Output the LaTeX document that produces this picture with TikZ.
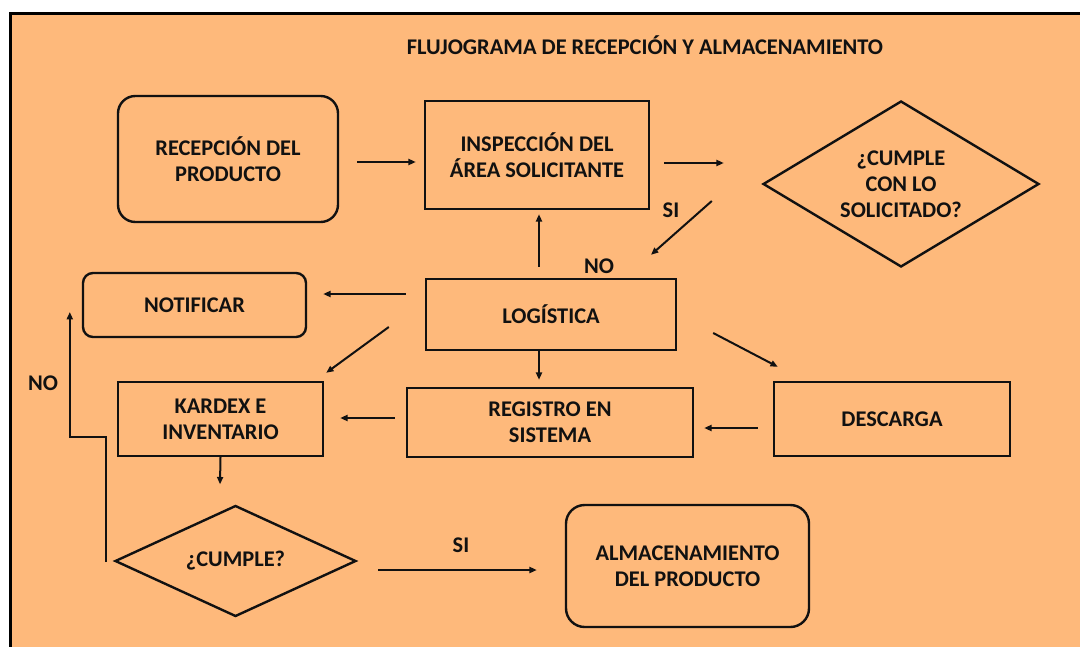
\documentclass[tikz,border=0pt]{standalone}
\usepackage{fontspec}
\setmainfont{Carlito}
\usetikzlibrary{shapes.geometric,arrows.meta,calc}
\definecolor{bgorange}{HTML}{FEB97B}
\definecolor{ink}{HTML}{111111}
\begin{document}
\begin{tikzpicture}[x=0.75pt,y=-0.75pt,
  every node/.style={font=\bfseries\fontsize{16.8}{19.5}\selectfont, align=center, text=ink},
  box/.style={draw=ink, line width=1.8pt, inner sep=0pt},
  rbox/.style={box, rounded corners=#1},
  dia/.style={diamond, draw=ink, line width=1.8pt, inner sep=0pt, aspect=1.66},
  arr/.style={draw=ink, line width=1.5pt, -{Triangle[length=5.5pt,width=4.5pt]}},
  lbl/.style={inner sep=0pt}]
\useasboundingbox (0,0) rectangle (1080,646);
\clip (0,0) rectangle (1080,646);
\fill[white] (0,0) rectangle (1080,646);
\draw[line width=2.4pt, fill=bgorange] (10.5,13.5) rectangle (1100,660);

\node[lbl] (title) at (645,45) {FLUJOGRAMA DE RECEPCIÓN Y ALMACENAMIENTO};

\node[rbox=13pt, minimum width=165pt, minimum height=94.5pt] (rec) at (228,159) {RECEPCIÓN DEL\\PRODUCTO};
\node[box, minimum width=168pt, minimum height=81pt] (insp) at (537,155) {INSPECCIÓN DEL\\ÁREA SOLICITANTE};
\node[dia, minimum width=207pt, minimum height=124.5pt] (d1) at (901,184) {¿CUMPLE\\CON LO\\SOLICITADO?};
\node[box, minimum width=187.5pt, minimum height=53.25pt] (logi) at (551,314.5) {LOGÍSTICA};
\node[rbox=7.5pt, minimum width=167.25pt, minimum height=48pt] (notif) at (194.5,305) {NOTIFICAR};
\node[box, minimum width=153.75pt, minimum height=55.5pt] (kard) at (220.5,419) {KARDEX E\\INVENTARIO};
\node[box, minimum width=214.5pt, minimum height=51.75pt] (reg) at (550,422.5) {REGISTRO EN\\SISTEMA};
\node[box, minimum width=177pt, minimum height=55.5pt] (desc) at (892,419) {DESCARGA};
\node[dia, minimum width=180.75pt, minimum height=83.25pt] (d2) at (235.5,561) {¿CUMPLE?};
\node[rbox=14pt, minimum width=182.25pt, minimum height=91.5pt] (alm) at (687.5,566) {ALMACENAMIENTO\\DEL PRODUCTO};

\node[lbl] (si1) at (671,210) {SI};
\node[lbl] (no1) at (599,266) {NO};
\node[lbl] (no2) at (43,383) {NO};
\node[lbl] (si2) at (461,545) {SI};

\draw[arr] ($(rec.east)+(18,3)$) -- ($(insp.west)+(-8,7)$);
\draw[arr] ($(insp.east)+(14,8)$) -- ($(d1.west)+(-38,-21)$);
\draw[arr] ($(d1.west)+(-50,17)$) -- ($(logi.north)+(100,-23)$);
\draw[arr] ($(logi.north)+(-12,-11)$) -- ($(insp.south)+(2,4)$);
\draw[arr] ($(logi.west)+(-19,-20.5)$) -- ($(notif.east)+(16,-11)$);
\draw[arr] ($(logi.west)+(-36,12.5)$) -- ($(kard.north east)+(2,-8)$);
\draw[arr] ($(logi.south)+(-12,0)$) -- ($(reg.north)+(-11,-7)$);
\draw[arr] ($(reg.west)+(-11,-4.5)$) -- ($(kard.east)+(16,-1)$);
\draw[arr] ($(logi.east)+(36,18.5)$) -- ($(desc.north west)+(5,-14)$);
\draw[arr] ($(desc.west)+(-15,9)$) -- ($(reg.east)+(10,5.5)$);
\draw[arr] (kard.south) -- ($(d2.north)+(-15.5,-20)$);
\draw[arr] ($(d2.east)+(21,9)$) -- ($(alm.west)+(-28,4)$);
\draw[arr] ($(d2.west)+(-8,1)$) -- ++(0,-125) -- ++(-36,0) -- ($(notif.west)+(-12,7)$);
\end{tikzpicture}
\end{document}
